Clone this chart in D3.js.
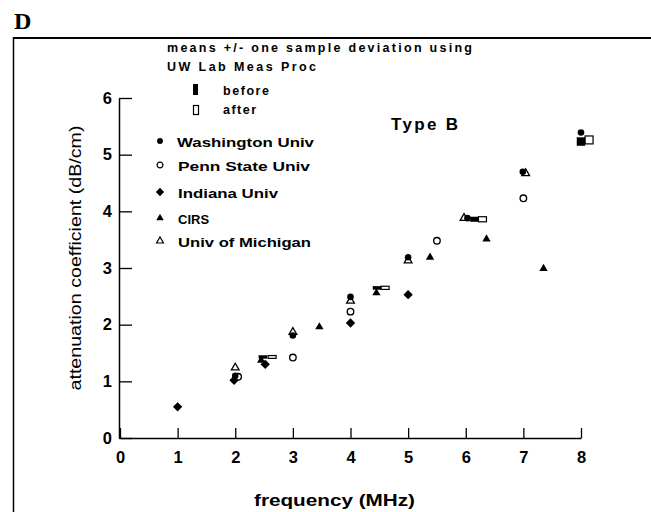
<!DOCTYPE html>
<html>
<head>
<meta charset="utf-8">
<script src="https://cdn.jsdelivr.net/npm/d3@7"></script>
<style>
  html, body { margin: 0; padding: 0; background: #fff; }
  svg { display: block; }
  text { font-family: "Liberation Sans", Arial, sans-serif; fill: #000; }
</style>
</head>
<body>
<svg id="chart" width="651" height="512"></svg>
<script>
// ---- data ----
const xTicks = [0, 1, 2, 3, 4, 5, 6, 7, 8];
const yTicks = [0, 1, 2, 3, 4, 5, 6];

const washFreq = [2, 3, 4, 5, 6.03, 6.99, 8];
const washVal  = [1.10, 1.81, 2.49, 3.19, 3.88, 4.70, 5.39];
const pennFreq = [2.05, 3, 4, 5.5, 7];
const pennVal  = [1.08, 1.42, 2.23, 3.48, 4.23];
const indFreq  = [1, 1.98, 2.52, 4, 5];
const indVal   = [0.55, 1.02, 1.30, 2.03, 2.53];
const cirsFreq = [2.45, 3.46, 4.45, 5.38, 6.36, 7.35];
const cirsVal  = [1.37, 1.96, 2.56, 3.19, 3.51, 2.99];
const michFreq = [2, 3, 4, 5, 5.97, 7.04];
const michVal  = [1.24, 1.87, 2.42, 3.13, 3.88, 4.67];

const beforeFreq = [2.48, 4.46, 6.15, 8.0];
const beforeMean = [1.43, 2.65, 3.86, 5.23];
const beforeSd   = [0.025, 0.028, 0.04, 0.07];
const afterFreq  = [2.64, 4.60, 6.29, 8.14];
const afterMean  = [1.43, 2.65, 3.86, 5.26];
const afterSd    = [0.025, 0.028, 0.045, 0.07];

const seriesNames = ["Washington  Univ", "Penn  State  Univ", "Indiana  Univ", "CIRS", "Univ  of  Michigan"];

// ---- layout ----
const svg = d3.select("#chart");
const x = d3.scaleLinear().domain([0, 8]).range([120, 581]);
const y = d3.scaleLinear().domain([0, 6]).range([438, 98]);

// frame
svg.append("line").attr("x1", 13).attr("x2", 651).attr("y1", 38).attr("y2", 38)
  .attr("stroke", "#000").attr("stroke-width", 2);
svg.append("line").attr("x1", 13.5).attr("x2", 13.5).attr("y1", 37).attr("y2", 512)
  .attr("stroke", "#000").attr("stroke-width", 1.5);

// panel letter
svg.append("text").attr("x", 14).attr("y", 28.5)
  .style("font-family", "'Liberation Serif', 'Times New Roman', serif")
  .style("font-weight", "bold").style("font-size", "24px").text("D");

// axes
const xAxis = d3.axisBottom(x).tickValues(xTicks).tickSize(-10).tickSizeOuter(0).tickPadding(13)
  .tickFormat(d3.format("d"));
const gx = svg.append("g").attr("transform", `translate(0,${y(0)})`).call(xAxis);
gx.select(".domain").attr("stroke-width", 1.5);
gx.selectAll(".tick line").attr("stroke-width", 1.3);
gx.selectAll(".tick text").style("font-family", "'Liberation Sans', Arial, sans-serif")
  .style("font-weight", "bold").style("font-size", "16.5px");

const yAxis = d3.axisLeft(y).tickValues(yTicks).tickSize(-13).tickSizeOuter(0).tickPadding(7)
  .tickFormat(d3.format("d"));
const gy = svg.append("g").attr("transform", `translate(${x(0) - 1},0)`).call(yAxis);
gy.select(".domain").attr("stroke-width", 1.5);
gy.selectAll(".tick line").attr("stroke-width", 1.3);
gy.selectAll(".tick text").style("font-family", "'Liberation Sans', Arial, sans-serif")
  .style("font-weight", "bold").style("font-size", "16.5px");

// axis titles
svg.append("text").attr("x", 254).attr("y", 506)
  .attr("textLength", 161).attr("lengthAdjust", "spacingAndGlyphs")
  .style("font-weight", "bold").style("font-size", "17px").text("frequency  (MHz)");
svg.append("text").attr("transform", "translate(81,258) rotate(-90)")
  .attr("text-anchor", "middle").attr("textLength", 265).attr("lengthAdjust", "spacingAndGlyphs")
  .style("font-size", "16px").text("attenuation coefficient (dB/cm)");

// Type B
svg.append("text").attr("x", 391).attr("y", 130)
  .attr("textLength", 67).attr("lengthAdjust", "spacing")
  .style("font-weight", "bold").style("font-size", "17px").text("Type  B");

// ---- symbols ----
const sym = {
  wash: { type: d3.symbolCircle, size: 34, fill: "#000", stroke: "none", rot: 0 },
  penn: { type: d3.symbolCircle, size: 34, fill: "#fff", stroke: "#000", rot: 0 },
  ind:  { type: d3.symbolSquare, size: 44, fill: "#000", stroke: "none", rot: 45 },
  cirs: { type: d3.symbolTriangle, size: 30, fill: "#000", stroke: "none", rot: 0 },
  mich: { type: d3.symbolTriangle, size: 26, fill: "#fff", stroke: "#000", rot: 0 }
};
function drawSeries(key, fx, vy) {
  const s = sym[key];
  const data = fx.map((f, i) => ({ f, v: vy[i] }));
  svg.append("g").selectAll("path").data(data).join("path")
    .attr("d", d3.symbol().type(s.type).size(s.size))
    .attr("transform", d => `translate(${x(d.f)},${y(d.v)}) rotate(${s.rot})`)
    .attr("fill", s.fill).attr("stroke", s.stroke).attr("stroke-width", 1.3);
}

// before/after rectangles
const rectW = 8;
function drawRects(fx, mean, sd, filled) {
  const data = fx.map((f, i) => ({ f, m: mean[i], s: sd[i] }));
  svg.append("g").selectAll("rect").data(data).join("rect")
    .attr("x", d => x(d.f) - rectW / 2)
    .attr("y", d => y(d.m + d.s))
    .attr("width", rectW)
    .attr("height", d => Math.max(2, y(d.m - d.s) - y(d.m + d.s)))
    .attr("fill", filled ? "#000" : "#fff")
    .attr("stroke", "#000").attr("stroke-width", filled ? 0.5 : 1.2);
}

drawRects(afterFreq, afterMean, afterSd, false);
drawRects(beforeFreq, beforeMean, beforeSd, true);
drawSeries("mich", michFreq, michVal);
drawSeries("penn", pennFreq, pennVal);
drawSeries("ind", indFreq, indVal);
drawSeries("cirs", cirsFreq, cirsVal);
drawSeries("wash", washFreq, washVal);

// ---- legend ----
const legHead = [
  { t: "means  +/-  one  sample  deviation  using", x: 167, y: 52, w: 305 },
  { t: "UW  Lab  Meas  Proc", x: 167, y: 71, w: 149 }
];
legHead.forEach(d => {
  svg.append("text").attr("x", d.x).attr("y", d.y)
    .attr("textLength", d.w).attr("lengthAdjust", "spacing")
    .style("font-weight", "bold").style("font-size", "12.5px").text(d.t);
});
svg.append("rect").attr("x", 193).attr("y", 84).attr("width", 5).attr("height", 11).attr("fill", "#000");
svg.append("rect").attr("x", 193.5).attr("y", 105.5).attr("width", 5).attr("height", 9)
  .attr("fill", "#fff").attr("stroke", "#000").attr("stroke-width", 1.2);
svg.append("text").attr("x", 223).attr("y", 95).attr("textLength", 46).attr("lengthAdjust", "spacing")
  .style("font-weight", "bold").style("font-size", "12.5px").text("before");
svg.append("text").attr("x", 223).attr("y", 114).attr("textLength", 33).attr("lengthAdjust", "spacing")
  .style("font-weight", "bold").style("font-size", "12.5px").text("after");

const legKeys = ["wash", "penn", "ind", "cirs", "mich"];
const legY = [141, 165, 192, 218, 241];
const legTextX = [177, 178, 178, 178, 178];
const legW = [137, 132, 100, null, 133];
legKeys.forEach((k, i) => {
  const s = sym[k];
  svg.append("path").attr("d", d3.symbol().type(s.type).size(s.size * 0.8))
    .attr("transform", `translate(160,${legY[i]}) rotate(${s.rot})`)
    .attr("fill", s.fill).attr("stroke", s.stroke).attr("stroke-width", 1.2);
  const t = svg.append("text").attr("x", legTextX[i]).attr("y", legY[i] + 6)
    .style("font-weight", "bold").style("font-size", "13px").text(seriesNames[i]);
  if (legW[i]) t.attr("textLength", legW[i]).attr("lengthAdjust", "spacingAndGlyphs");
});
</script>
</body>
</html>
